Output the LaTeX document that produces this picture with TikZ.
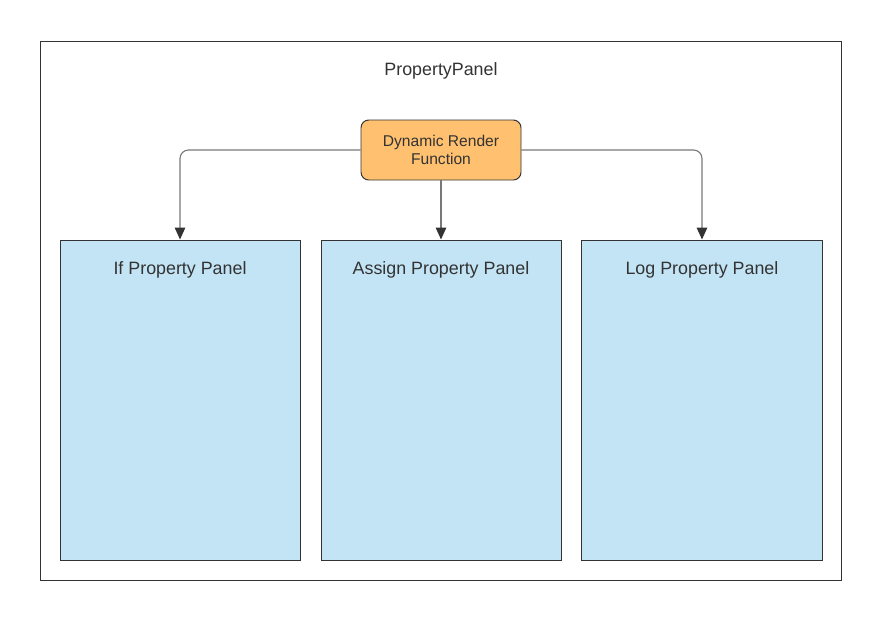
\documentclass[tikz,border=0pt]{standalone}
\usepackage{fontspec}
\setmainfont{Liberation Sans}
\usetikzlibrary{positioning, arrows.meta}

\definecolor{panelblue}{RGB}{195,228,245}
\definecolor{funcorange}{RGB}{255,192,112}
\definecolor{textgray}{RGB}{51,51,51}
\definecolor{linegray}{RGB}{120,120,120}

\begin{document}
\begin{tikzpicture}[
        panel/.style={draw=textgray, rectangle, line width=0.7pt, minimum width=6cm, minimum height=8cm, fill=panelblue, inner sep=0pt},
        paneltext/.style={text=textgray, font=\fontsize{12.7}{15}\selectfont},
        func/.style={draw=textgray, rectangle, rounded corners=5.5pt, line width=0.7pt, align=center, minimum width=4cm, minimum height=1.5cm, fill=funcorange, text=textgray, font=\fontsize{11.1}{13.5}\selectfont},
        arrow/.style={-{Triangle[length=8.5pt, width=7.5pt, color=textgray]}, draw=linegray, line width=0.8pt, rounded corners=6pt}
    ]
    \useasboundingbox (0,0) rectangle (22.025,-15.5);
    \draw[draw=textgray, line width=0.7pt] (1.0,-1.025) rectangle (21.025,-14.5);
    \node[paneltext] (title) at (11.025,-1.78) {PropertyPanel};

    \node[func] (render) at (11.025,-3.75) {Dynamic Render\\[-0.5pt]Function};
    \node[panel] (assign) at (11.025,-10) {};
    \node[panel, left=0.5cm of assign] (ifp) {};
    \node[panel, right=0.5cm of assign] (logp) {};

    \node[paneltext] (ifText) at ([yshift=-0.77cm]ifp.north) {If Property Panel};
    \node[paneltext] (assignText) at ([yshift=-0.77cm]assign.north) {Assign Property Panel};
    \node[paneltext] (logText) at ([yshift=-0.77cm]logp.north) {Log Property Panel};

    \draw[arrow] (render.west) -| (ifp.north);
    \draw[arrow] (render.south) -- (assign.north);
    \draw[arrow] (render.east) -| (logp.north);
\end{tikzpicture}
\end{document}
